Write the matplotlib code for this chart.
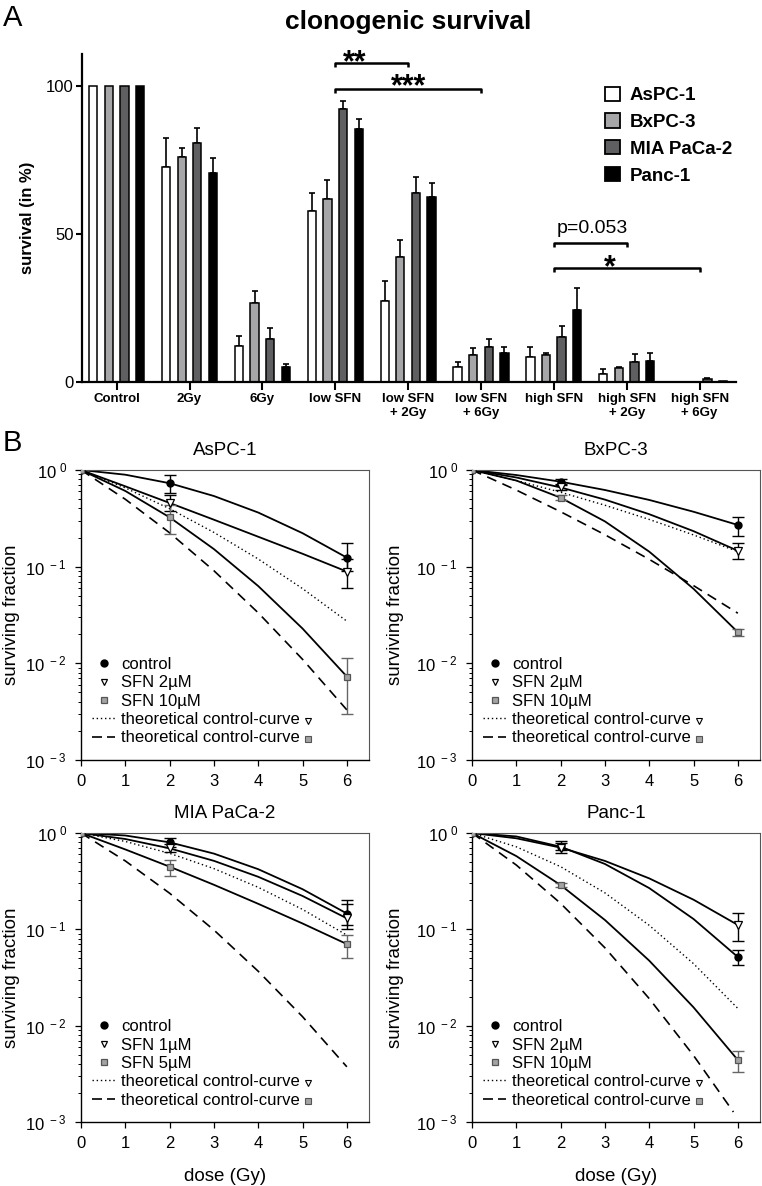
import matplotlib
matplotlib.use('Agg')
import matplotlib.pyplot as plt
from matplotlib.lines import Line2D
import numpy as np

# ---------------- panel A data ----------------
groups = ['Control', '2Gy', '6Gy', 'low SFN', 'low SFN\n+ 2Gy', 'low SFN\n+ 6Gy',
          'high SFN', 'high SFN\n+ 2Gy', 'high SFN\n+ 6Gy']
cell_lines = ['AsPC-1', 'BxPC-3', 'MIA PaCa-2', 'Panc-1']
aspc1_surv = [100, 72.4, 12.0, 57.7, 27.4, 5.1, 8.4, 2.6, 0.0]
aspc1_err = [0, 9.8, 3.4, 5.9, 6.6, 1.7, 3.4, 1.7, 0]
bxpc3_surv = [100, 75.8, 26.5, 61.8, 42.2, 9.0, 8.9, 4.5, 0.0]
bxpc3_err = [0, 3.3, 4.1, 6.3, 5.7, 2.3, 0.9, 0.6, 0]
mia_surv = [100, 80.5, 14.4, 92.1, 63.6, 11.6, 15.0, 6.8, 0.9]
mia_err = [0, 5.3, 3.6, 2.8, 5.7, 2.7, 3.9, 2.4, 0.45]
panc1_surv = [100, 70.4, 4.8, 85.2, 62.3, 9.6, 24.2, 7.1, 0.1]
panc1_err = [0, 5.1, 1.1, 3.5, 4.9, 2.1, 7.6, 2.7, 0]

# ---------------- panel B data ----------------
dose_pts = [0, 2, 6]
dose_fit = [0, 1, 2, 3, 4, 5, 6]

# AsPC-1
as_ctrl = [1, 0.73, 0.124]
as_ctrl_lo = [1, 0.58, 0.09]
as_ctrl_hi = [1, 0.89, 0.177]
as_sfn_a = [1, 0.456, 0.089]
as_sfn_a_lo = [1, 0.38, 0.06]
as_sfn_a_hi = [1, 0.55, 0.12]
as_sfn_b = [1, 0.324, 0.0073]
as_sfn_b_lo = [1, 0.22, 0.003]
as_sfn_b_hi = [1, 0.43, 0.0114]
as_fit_ctrl = [1, 0.894, 0.73, 0.538, 0.363, 0.222, 0.124]
as_fit_a = [1, 0.678, 0.456, 0.306, 0.204, 0.136, 0.089]
as_fit_b = [1, 0.607, 0.324, 0.152, 0.063, 0.0229, 0.0073]
as_theo_a = [1, 0.653, 0.398, 0.226, 0.12, 0.0593, 0.0273]
as_theo_b = [1, 0.498, 0.224, 0.0908, 0.0333, 0.011, 0.0033]

# BxPC-3
bx_ctrl = [1, 0.757, 0.27]
bx_ctrl_lo = [1, 0.72, 0.21]
bx_ctrl_hi = [1, 0.80, 0.33]
bx_sfn_a = [1, 0.66, 0.146]
bx_sfn_a_lo = [1, 0.62, 0.12]
bx_sfn_a_hi = [1, 0.70, 0.177]
bx_sfn_b = [1, 0.517, 0.021]
bx_sfn_b_lo = [1, 0.49, 0.019]
bx_sfn_b_hi = [1, 0.545, 0.0225]
bx_fit_ctrl = [1, 0.887, 0.757, 0.621, 0.49, 0.37, 0.27]
bx_fit_a = [1, 0.837, 0.66, 0.494, 0.349, 0.233, 0.146]
bx_fit_b = [1, 0.778, 0.517, 0.294, 0.143, 0.059, 0.021]
bx_theo_a = [1, 0.779, 0.589, 0.432, 0.308, 0.213, 0.143]
bx_theo_b = [1, 0.62, 0.37, 0.214, 0.119, 0.0637, 0.033]

# MIA PaCa-2
mi_ctrl = [1, 0.80, 0.146]
mi_ctrl_lo = [1, 0.72, 0.11]
mi_ctrl_hi = [1, 0.89, 0.20]
mi_sfn_a = [1, 0.693, 0.13]
mi_sfn_a_lo = [1, 0.63, 0.10]
mi_sfn_a_hi = [1, 0.76, 0.185]
mi_sfn_b = [1, 0.447, 0.0703]
mi_sfn_b_lo = [1, 0.36, 0.05]
mi_sfn_b_hi = [1, 0.52, 0.088]
mi_fit_ctrl = [1, 0.942, 0.80, 0.611, 0.421, 0.261, 0.146]
mi_fit_a = [1, 0.866, 0.693, 0.514, 0.351, 0.222, 0.13]
mi_fit_b = [1, 0.675, 0.447, 0.29, 0.184, 0.115, 0.0703]
mi_theo_a = [1, 0.817, 0.615, 0.427, 0.273, 0.161, 0.087]
mi_theo_b = [1, 0.513, 0.237, 0.0984, 0.0367, 0.0124, 0.00374]

# Panc-1
pa_ctrl = [1, 0.72, 0.052]
pa_ctrl_lo = [1, 0.66, 0.043]
pa_ctrl_hi = [1, 0.78, 0.061]
pa_sfn_a = [1, 0.705, 0.111]
pa_sfn_a_lo = [1, 0.62, 0.076]
pa_sfn_a_hi = [1, 0.82, 0.149]
pa_sfn_b = [1, 0.288, 0.0044]
pa_sfn_b_lo = [1, 0.275, 0.0033]
pa_sfn_b_hi = [1, 0.30, 0.0054]
pa_fit_ctrl = [1, 0.921, 0.72, 0.477, 0.268, 0.128, 0.0516]
pa_fit_a = [1, 0.881, 0.705, 0.513, 0.338, 0.203, 0.111]
pa_fit_b = [1, 0.576, 0.288, 0.125, 0.0473, 0.0155, 0.0044]
pa_theo_a = [1, 0.719, 0.447, 0.239, 0.11, 0.044, 0.0151]
pa_theo_b_dose = [0, 1, 2, 3, 4, 5, 5.9]
pa_theo_b = [1, 0.465, 0.186, 0.0643, 0.0191, 0.0049, 0.00127]

plt.rcParams['font.family'] = ['Liberation Sans', 'DejaVu Sans']
plt.rcParams['mathtext.default'] = 'regular'

W, H = 762, 1186
fig = plt.figure(figsize=(W / 100, H / 100), dpi=100)


def px_axes(x0, y0, x1, y1):
    return fig.add_axes([x0 / W, 1 - y1 / H, (x1 - x0) / W, (y1 - y0) / H])


# ================= panel A =================
axA = px_axes(82, 54, 736, 381.7)
x = np.arange(len(groups))
offsets = [-0.321, -0.107, 0.107, 0.321]
bar_colors = ['white', '#a6a6a8', '#5f5f61', 'black']
series = [(aspc1_surv, aspc1_err), (bxpc3_surv, bxpc3_err),
          (mia_surv, mia_err), (panc1_surv, panc1_err)]
for (vals, errs), off, col, name in zip(series, offsets, bar_colors, cell_lines):
    vals = np.array(vals)
    errs = np.array(errs)
    axA.bar(x + off, vals, width=0.114, color=col, edgecolor='black',
            linewidth=1.1, label=name, zorder=2)
    m = errs > 0
    axA.errorbar((x + off)[m], vals[m], yerr=[np.zeros(m.sum()), errs[m]],
                 fmt='none', ecolor='black', elinewidth=1.2, capsize=2.5,
                 capthick=1.2, zorder=1)

axA.set_xlim(-0.476, 8.5)
axA.set_ylim(0, 110.7)
axA.set_yticks([0, 50, 100])
axA.set_xticks(x)
axA.set_xticklabels(groups, fontsize=9.5, fontweight='bold', linespacing=1.2)
axA.tick_params(axis='x', length=6, width=1.5, pad=2)
axA.tick_params(axis='y', length=4, width=1.5, pad=2, labelsize=12)
for s in ['top', 'right']:
    axA.spines[s].set_visible(False)
for s in ['left', 'bottom']:
    axA.spines[s].set_linewidth(1.6)
axA.set_ylabel('survival (in %)', fontsize=12, fontweight='bold', labelpad=8)


def bracket(ax, g0, g1, y, tick=1.2):
    ax.plot([g0, g0, g1, g1], [y - tick, y, y, y - tick], color='black', lw=1.8,
            solid_capstyle='butt', clip_on=False)


bracket(axA, 3, 4, 107.6)
bracket(axA, 3, 5, 98.8)
bracket(axA, 6, 7, 46.8)
bracket(axA, 6, 8, 38.3)
axA.text(3.27, 105.0, '**', ha='center', va='baseline', fontsize=22, fontweight='bold')
axA.text(4.0, 96.6, '***', ha='center', va='baseline', fontsize=22, fontweight='bold')
axA.text(6.77, 35.6, '*', ha='center', va='baseline', fontsize=22, fontweight='bold')
axA.text(6.53, 51.9, 'p=0.053', ha='center', va='center', fontsize=14)

legA = axA.legend(loc='upper left', bbox_to_anchor=(0.80, 0.90), frameon=False,
                  prop={'size': 13.5, 'weight': 'bold'}, handlelength=0.8,
                  handleheight=0.8, handletextpad=0.5, labelspacing=0.48,
                  borderpad=0, borderaxespad=0)
for p in legA.get_patches():
    p.set_linewidth(1.3)

fig.text(408 / W, 1 - 22 / H, 'clonogenic survival', ha='center', va='center',
         fontsize=19, fontweight='bold')
fig.text(0.004, 1 - 4 / H, 'A', ha='left', va='top', fontsize=21)
fig.text(0.004, 1 - 443 / H, 'B', ha='left', va='center', fontsize=21)

# ================= panel B =================
panels = [
    ('AsPC-1', (81, 470, 369, 760), ['SFN 2\u00b5M', 'SFN 10\u00b5M'],
     (as_ctrl, as_ctrl_lo, as_ctrl_hi), (as_sfn_a, as_sfn_a_lo, as_sfn_a_hi),
     (as_sfn_b, as_sfn_b_lo, as_sfn_b_hi),
     as_fit_ctrl, as_fit_a, as_fit_b, as_theo_a, (dose_fit, as_theo_b), -0.212, False),
    ('BxPC-3', (472, 470, 760, 760), ['SFN 2\u00b5M', 'SFN 10\u00b5M'],
     (bx_ctrl, bx_ctrl_lo, bx_ctrl_hi), (bx_sfn_a, bx_sfn_a_lo, bx_sfn_a_hi),
     (bx_sfn_b, bx_sfn_b_lo, bx_sfn_b_hi),
     bx_fit_ctrl, bx_fit_a, bx_fit_b, bx_theo_a, (dose_fit, bx_theo_b), -0.236, False),
    ('MIA PaCa-2', (81, 833, 369, 1122), ['SFN 1\u00b5M', 'SFN 5\u00b5M'],
     (mi_ctrl, mi_ctrl_lo, mi_ctrl_hi), (mi_sfn_a, mi_sfn_a_lo, mi_sfn_a_hi),
     (mi_sfn_b, mi_sfn_b_lo, mi_sfn_b_hi),
     mi_fit_ctrl, mi_fit_a, mi_fit_b, mi_theo_a, (dose_fit, mi_theo_b), -0.212, True),
    ('Panc-1', (472, 833, 760, 1122), ['SFN 2\u00b5M', 'SFN 10\u00b5M'],
     (pa_ctrl, pa_ctrl_lo, pa_ctrl_hi), (pa_sfn_a, pa_sfn_a_lo, pa_sfn_a_hi),
     (pa_sfn_b, pa_sfn_b_lo, pa_sfn_b_hi),
     pa_fit_ctrl, pa_fit_a, pa_fit_b, pa_theo_a, (pa_theo_b_dose, pa_theo_b), -0.236, True),
]

sq_face = '#a3a3a3'
sq_edge = '#555555'
legends = []
for (title, box, sfn_labels, ctrl, sa, sb, fc, fa, fb, ta, tb, ylab_x, show_xlabel) in panels:
    ax = px_axes(*box)
    ax.set_yscale('log')
    ax.set_xlim(0, 6.5)
    ax.set_ylim(1e-3, 1)

    ax.plot(dose_fit, ta, ls=(0, (1, 2)), color='black', lw=1.0, zorder=2)
    ax.plot(tb[0], tb[1], ls=(0, (6, 4)), color='black', lw=1.2, zorder=2)
    for fit in (fc, fa, fb):
        ax.plot(dose_fit, fit, color='black', lw=1.3, zorder=2)

    styles = [
        (ctrl, dict(marker='o', mfc='black', mec='black', ms=5), 'black'),
        (sa, dict(marker='v', mfc='white', mec='black', ms=5.5, mew=0.9), 'black'),
        (sb, dict(marker='s', mfc=sq_face, mec=sq_edge, ms=5, mew=0.9), '#666666'),
    ]
    for (vals, lo, hi), mk, ecol in styles:
        vals = np.array(vals)
        yerr = [vals - np.array(lo), np.array(hi) - vals]
        ax.errorbar(dose_pts[1:], vals[1:], yerr=[yerr[0][1:], yerr[1][1:]], fmt='none',
                    ecolor=ecol, elinewidth=1.0, capsize=4.5, capthick=1.0, zorder=3)
        ax.plot(dose_pts, vals, ls='none', zorder=4, **mk)

    ax.set_title(title, fontsize=13.5, pad=11)
    ax.set_xticks(range(7))
    ax.set_yticks([1e-3, 1e-2, 1e-1, 1])
    ax.set_yticklabels([r'$10^{\ -3}$', r'$10^{\ -2}$', r'$10^{\ -1}$', r'$10^{\ 0}$'])
    ax.yaxis.set_minor_locator(matplotlib.ticker.LogLocator(base=10, subs=np.arange(2, 10)))
    ax.yaxis.set_minor_formatter(matplotlib.ticker.NullFormatter())
    ax.tick_params(axis='both', which='major', labelsize=12, length=4, width=0.9, pad=6)
    ax.tick_params(axis='y', which='minor', length=2.5, width=0.7)
    ax.tick_params(axis='x', which='minor', length=0)
    for s in ['top', 'right']:
        ax.spines[s].set_color('#555555')
        ax.spines[s].set_linewidth(0.8)
    for s in ['left', 'bottom']:
        ax.spines[s].set_linewidth(1.0)
    ax.set_ylabel('surviving fraction', fontsize=13.5)
    ax.yaxis.set_label_coords(ylab_x, 0.5)
    if show_xlabel:
        ax.set_xlabel('dose (Gy)', fontsize=13.5, labelpad=12)

    handles = [
        Line2D([], [], ls='none', marker='o', mfc='black', mec='black', ms=5),
        Line2D([], [], ls='none', marker='v', mfc='white', mec='black', ms=5, mew=0.9),
        Line2D([], [], ls='none', marker='s', mfc=sq_face, mec=sq_edge, ms=4.8, mew=0.9),
        Line2D([], [], ls=(0, (1, 2)), color='black', lw=1.0),
        Line2D([], [], ls=(0, (6, 3)), color='black', lw=1.2),
    ]
    labels = ['control', sfn_labels[0], sfn_labels[1],
              'theoretical control-curve', 'theoretical control-curve']
    leg = ax.legend(handles, labels, loc='lower left', bbox_to_anchor=(0.038, 0.05),
                    frameon=False, fontsize=12, handlelength=1.4, handletextpad=0.35,
                    labelspacing=0.2, borderpad=0, borderaxespad=0)
    legends.append(leg)

# small symbols that follow the "theoretical control-curve" legend labels
fig.canvas.draw()
inv = fig.transFigure.inverted()
for leg in legends:
    texts = leg.get_texts()
    for t, mk in zip(texts[3:], [dict(marker='v', mfc='white', mec='black', ms=5, mew=0.8),
                                 dict(marker='s', mfc=sq_face, mec=sq_edge, ms=4.5, mew=0.8)]):
        bb = t.get_window_extent()
        fx, fy = inv.transform((bb.x1 + 8, (bb.y0 + bb.y1) / 2 - 1))
        fig.add_artist(Line2D([fx], [fy], ls='none', transform=fig.transFigure, **mk))

fig.savefig('out.png', dpi=100)
